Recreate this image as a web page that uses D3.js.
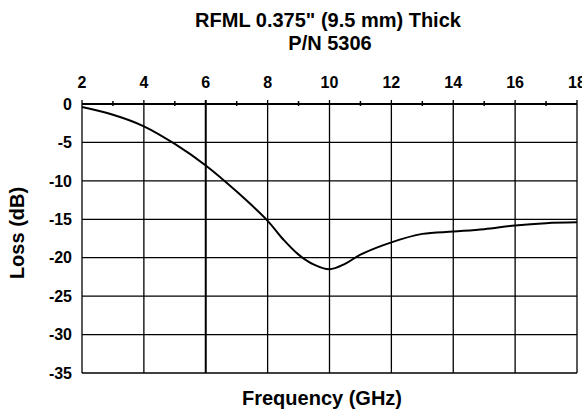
<!DOCTYPE html>
<meta charset="utf-8">
<script src="https://d3js.org/d3.v7.min.js"></script>
<style>
  body { margin: 0; background: #fff; }
  text { font-family: "Liberation Sans", Arial, Helvetica, sans-serif; font-weight: bold; fill: #000; }
</style>
<div id="chart"></div>
<script>

// data
var freq = [2, 3, 4, 5, 6, 7, 8, 8.5, 9, 9.5, 10, 10.5, 11, 12, 13, 14, 15, 16, 17, 18];
var loss = [-0.4, -1.4, -2.9, -5.2, -8.0, -11.4, -15.2, -17.6, -19.6, -20.9, -21.5, -20.8, -19.6, -18.0, -16.9, -16.6, -16.3, -15.8, -15.5, -15.4];
var xTicks = [2, 4, 6, 8, 10, 12, 14, 16, 18];
var xMinor = [3, 5, 7, 9, 11, 13, 15, 17];
var yTicks = [0, -5, -10, -15, -20, -25, -30, -35];

var W = 582, H = 411;
var margin = {top: 104, right: 5, bottom: 38, left: 82};
var width = W - margin.left - margin.right,
    height = H - margin.top - margin.bottom;

var svg = d3.select("#chart").append("svg")
    .attr("width", W)
    .attr("height", H);

// title
svg.append("text")
    .attr("x", 328)
    .attr("y", 27)
    .attr("text-anchor", "middle")
    .style("font-size", "20px")
    .text("RFML 0.375\" (9.5 mm) Thick");
svg.append("text")
    .attr("x", 330)
    .attr("y", 50)
    .attr("text-anchor", "middle")
    .style("font-size", "20px")
    .text("P/N 5306");

var g = svg.append("g")
    .attr("transform", "translate(" + margin.left + "," + margin.top + ")");

var x = d3.scaleLinear().domain([2, 18]).range([0, width]);
var y = d3.scaleLinear().domain([0, -35]).range([0, height]);

// horizontal grid
g.selectAll(".hgrid")
  .data(yTicks)
  .enter().append("line")
    .attr("x1", 0).attr("x2", width)
    .attr("y1", function(d) { return y(d); })
    .attr("y2", function(d) { return y(d); })
    .attr("stroke", "#000")
    .attr("stroke-width", function(d) { return d === 0 ? 2 : 1.3; });

// vertical grid, sticking out a little above the top axis
g.selectAll(".vgrid")
  .data(xTicks)
  .enter().append("line")
    .attr("x1", function(d) { return x(d); })
    .attr("x2", function(d) { return x(d); })
    .attr("y1", -4).attr("y2", height)
    .attr("stroke", "#000")
    .attr("stroke-width", function(d) { return d === 6 ? 2 : 1.3; });

// minor ticks on top axis
g.selectAll(".minor")
  .data(xMinor)
  .enter().append("line")
    .attr("x1", function(d) { return x(d); })
    .attr("x2", function(d) { return x(d); })
    .attr("y1", -3).attr("y2", 2)
    .attr("stroke", "#000")
    .attr("stroke-width", 1.5);

// tick labels
g.selectAll(".xlab")
  .data(xTicks)
  .enter().append("text")
    .attr("x", function(d) { return x(d); })
    .attr("y", -16)
    .attr("text-anchor", "middle")
    .style("font-size", "16px")
    .text(function(d) { return d; });

g.selectAll(".ylab")
  .data(yTicks)
  .enter().append("text")
    .attr("x", -10)
    .attr("y", function(d) { return y(d); })
    .attr("dy", "0.36em")
    .attr("text-anchor", "end")
    .style("font-size", "16px")
    .text(function(d) { return d; });

// axis titles
svg.append("text")
    .attr("x", 322)
    .attr("y", 405)
    .attr("text-anchor", "middle")
    .style("font-size", "20px")
    .text("Frequency (GHz)");

svg.append("text")
    .attr("transform", "translate(24,233) rotate(-90)")
    .attr("text-anchor", "middle")
    .style("font-size", "20px")
    .text("Loss (dB)");

// loss curve
var line = d3.line()
    .x(function(d, i) { return x(freq[i]); })
    .y(function(d) { return y(d); })
    .curve(d3.curveCatmullRom.alpha(0.5));

g.append("path")
    .datum(loss)
    .attr("fill", "none")
    .attr("stroke", "#000")
    .attr("stroke-width", 2)
    .attr("d", line);

</script>
